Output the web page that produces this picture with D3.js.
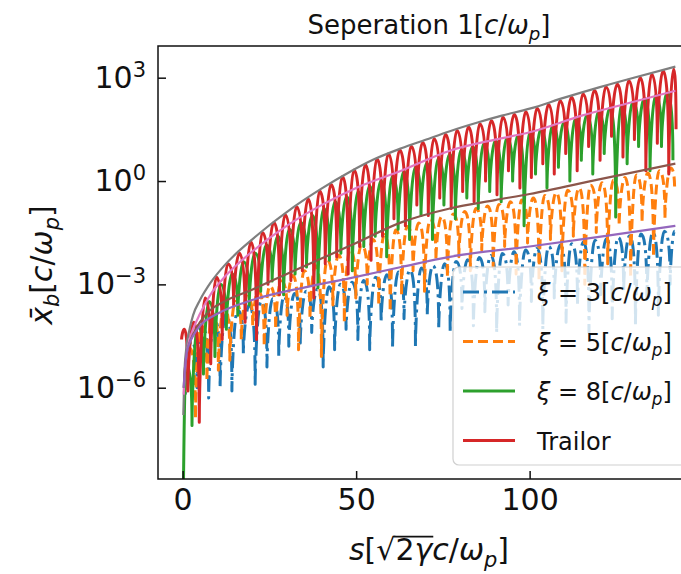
<!DOCTYPE html>
<html>
<head>
<meta charset="utf-8">
<script src="https://cdn.jsdelivr.net/npm/d3@7"></script>
<style>
  body { margin: 0; background: #fff; }
  text { font-family: "DejaVu Sans", sans-serif; fill: #111; }
</style>
</head>
<body>
<div id="chart"></div>
<script>
// ---- data: [s, x_b] ----
var xi3 = [[0.4,2.5e-6],[0.8,6.3e-7],[2.5,2.2e-5],[4.15,1e-6],[5.8,5.6e-5],[7.5,5e-7],[9.15,1e-4],[10.8,1e-6],
  [12.5,1.4e-4],[14.2,8e-7],[15.85,1.8e-4],[17.5,1e-5],[19.2,2.5e-4],[20.9,1.26e-6],[22.6,3.2e-4],[24.3,4e-6],
  [25.95,3.8e-4],[27.7,8e-6],[29.2,4.5e-4],[30.6,1.6e-5],[32.25,5.4e-4],[33.9,2e-5],[35.6,6.3e-4],[37.2,4e-5],
  [38.85,7.4e-4],[40.5,4e-6],[42.15,8.5e-4],[43.8,1.26e-5],[45.45,1e-3],[47.1,5e-5],[48.8,1.15e-3],[50.5,2.5e-5],
  [52.2,1.3e-3],[53.9,1.26e-5],[55.6,1.6e-3],[57.2,8e-5],[58.85,1.9e-3],[60.5,1.4e-5],[62.15,2.3e-3],[63.8,1e-4],
  [65.5,2.6e-3],[67.1,1.6e-5],[68.8,3e-3],[70.5,1.26e-4],[72.1,3.5e-3],[73.8,5e-5],[75.5,4e-3],[77.1,4e-5],
  [78.8,4.6e-3],[80.5,2e-4],[82.1,5.2e-3],[83.8,6.3e-5],[85.5,6e-3],[87.1,1.6e-4],[88.8,6.9e-3],[90.5,4e-5],
  [92.1,7.9e-3],[93.8,2.5e-4],[95.5,8.9e-3],[97.1,6.3e-5],[98.8,1e-2],[100.5,3.2e-4],[102.1,1.1e-2],[103.8,5e-5],
  [105.5,1.26e-2],[107.1,4e-4],[108.8,1.4e-2],[110.5,8e-5],[112.1,1.5e-2],[113.8,2.5e-4],[115.5,1.7e-2],[117.1,4e-5],
  [118.8,1.9e-2],[120.5,5e-4],[122.1,2.1e-2],[123.8,1e-4],[125.5,2.3e-2],[127.1,6.3e-4],[128.8,2.6e-2],[130.5,6.3e-5],
  [132.1,2.9e-2],[133.8,4e-4],[135.5,3.2e-2],[137.1,1.26e-4],[138.8,3.5e-2],[140.5,1e-3],[141.8,3.5e-2]];

var xi5 = [[0.6,6.3e-7],[2.05,1.4e-5],[3.7,1.26e-7],[5.35,6.3e-5],[7.0,1.6e-6],[8.65,1.4e-4],[10.3,3.2e-6],
  [11.95,2.2e-4],[13.6,6.3e-6],[15.25,3.2e-4],[16.9,2.5e-5],[18.55,4.5e-4],[20.2,6.3e-5],[21.85,6.3e-4],[23.5,1.6e-5],
  [25.15,8.9e-4],[26.8,5e-5],[28.45,1.26e-3],[30.1,1.26e-4],[31.75,1.8e-3],[33.4,1.26e-5],[35.05,2.5e-3],[36.7,1e-4],
  [38.35,3.5e-3],[40.0,8e-6],[41.65,5e-3],[43.3,2.5e-4],[44.95,7e-3],[46.6,8e-5],[48.25,1e-2],[49.9,4e-4],
  [51.55,1.4e-2],[53.2,1e-3],[54.85,2e-2],[56.5,2.5e-4],[58.15,2.8e-2],[59.8,1.6e-4],[61.45,3.8e-2],[63.1,5e-4],
  [64.75,4.8e-2],[66.4,2.5e-3],[68.05,6e-2],[69.7,6.3e-4],[71.35,7.6e-2],[73.0,5e-3],[74.65,9.3e-2],[76.3,1.6e-3],
  [77.95,0.11],[79.6,6.3e-3],[81.25,0.13],[82.9,2.5e-3],[84.55,0.16],[86.2,1e-2],[87.85,0.19],[89.5,3.2e-3],
  [91.15,0.21],[92.8,1.26e-2],[94.45,0.25],[96.1,2e-3],[97.75,0.28],[99.4,1.6e-2],[101.05,0.32],[102.7,1.26e-3],
  [104.35,0.38],[106.0,2e-2],[107.65,0.46],[109.3,2.5e-3],[110.95,0.54],[112.6,2.5e-2],[114.25,0.63],[115.9,1e-3],
  [117.55,0.76],[119.2,3.2e-2],[120.85,0.89],[122.5,4e-3],[124.15,1.07],[125.8,5e-2],[127.45,1.26],[129.1,1.6e-3],
  [130.75,1.5],[132.4,6.3e-2],[134.05,1.7],[135.7,6.3e-3],[137.35,2],[139.0,8e-2],[140.65,2.4],[141.8,0.5]];

var xi8 = [[0.05,1e-12],[1.0,5e-6],[2.7,8e-8],[4.35,6.3e-5],[6.0,2.5e-6],[7.65,3.2e-4],[9.3,8e-6],[10.95,1e-3],
  [12.6,5e-5],[14.25,2e-3],[15.9,1.26e-4],[17.55,4.5e-3],[19.2,2.5e-4],[20.85,8e-3],[22.5,6.3e-4],[24.15,1.4e-2],
  [25.8,1.26e-3],[27.45,2.5e-2],[29.1,5e-4],[30.75,4e-2],[32.4,2e-3],[34.05,6.3e-2],[35.7,3.2e-3],[37.35,0.1],
  [39.0,8e-4],[40.65,0.16],[42.3,5e-3],[43.95,0.25],[45.6,8e-3],[47.25,0.35],[48.9,2.5e-3],[50.55,0.5],
  [52.2,1.26e-2],[53.85,0.71],[55.5,2.5e-2],[57.15,1],[58.8,6.3e-3],[60.45,1.4],[62.1,4e-2],[63.75,1.9],
  [65.4,2e-2],[67.05,2.5],[68.7,0.1],[70.35,3.3],[72.0,2e-2],[73.65,4.5],[75.3,0.2],[76.95,6],
  [78.6,8e-2],[80.25,8],[81.9,0.32],[83.55,10],[85.2,0.16],[86.85,12.6],[88.5,0.5],[90.15,15],
  [91.8,0.25],[93.45,18],[95.1,1],[96.75,22],[98.4,5e-2],[100.05,26],[101.7,1.6],[103.35,33],
  [105.0,0.63],[106.65,42],[108.3,2.5],[109.95,52],[111.6,1],[113.25,66],[114.9,4],[116.55,83],
  [118.2,1.6],[119.85,105],[121.5,6.3],[123.15,132],[124.8,9e-2],[126.45,166],[128.1,3.2],[129.75,200],
  [131.4,10],[133.05,251],[134.7,2],[136.35,316],[138.0,10],[139.65,380],[141.3,4]];

var trailor = [[-0.3,2.5e-5],[0.5,5e-5],[1.5,8e-7],[3.15,8e-5],[4.8,1e-7],[6.45,4e-4],[8.1,5e-6],[9.75,1.6e-3],
  [11.4,2.5e-5],[13.05,4e-3],[14.7,2.5e-4],[16.35,8e-3],[18.0,8e-5],[19.65,1.7e-2],[21.3,2.5e-5],[22.95,3.2e-2],
  [24.6,1e-3],[26.25,6.3e-2],[27.9,5e-4],[29.55,0.105],[31.2,1.3e-3],[32.85,0.178],[34.5,2.5e-3],[36.15,0.3],
  [37.8,4e-4],[39.45,0.51],[41.1,4e-3],[42.75,0.79],[44.4,6.3e-3],[46.05,1.35],[47.7,2e-3],[49.35,2.1],
  [51.0,1.26e-2],[52.65,3.0],[54.3,5e-3],[55.95,4.4],[57.6,2.5e-2],[59.25,6.2],[60.9,8e-2],[62.55,8],
  [64.2,5e-2],[65.85,10.2],[67.5,0.2],[69.15,13.2],[70.8,0.1],[72.45,17],[74.1,0.32],[75.75,22.4],
  [77.4,0.16],[79.05,29.5],[80.7,0.5],[82.35,37],[84.0,0.25],[85.65,46],[87.3,1],[88.95,56],
  [90.6,0.4],[92.25,71],[93.9,2],[95.55,85],[97.2,0.63],[98.85,102],[100.5,1.26],[102.15,129],
  [103.8,3.2],[105.45,166],[107.1,1.6],[108.75,214],[110.4,6.3],[112.05,269],[113.7,2],[115.35,339],
  [117.0,10],[118.65,427],[120.3,4],[121.95,537],[123.6,20],[125.25,646],[126.9,5],[128.55,813],
  [130.2,16],[131.85,1000],[133.5,2],[135.15,1259],[136.8,12.6],[138.45,1585],[140.1,1.6],[141.5,1778],[142.2,32]];

// smooth reference curves
var envGray = [[0.2,1.6e-7],[0.5,2.5e-6],[1,1.26e-5],[2,5e-5],[3,1.26e-4],[5,3.5e-4],[8,1.1e-3],[12,3.5e-3],
  [16,8.9e-3],[20,2e-2],[25,5.2e-2],[30,0.126],[40,0.6],[48,1.8],[55,4.2],[63,8.9],[70,15.8],[77,28],[85,50],
  [92,79],[100,126],[110,263],[120,525],[130,1000],[142,2089]];
var envPink = [[0.3,6.3e-7],[0.7,3.2e-6],[1.2,1e-5],[2,2.5e-5],[3,5e-5],[5,1.4e-4],[8,5e-4],[12,1.6e-3],
  [16,4e-3],[20,8.9e-3],[25,2.2e-2],[30,5e-2],[40,0.2],[50,0.63],[63,2],[77,7.6],[90,16],[100,26],[115,79],
  [130,200],[142,417]];
var envBrown = [[0.3,1e-6],[0.7,4e-6],[1.2,1e-5],[2,2e-5],[3,3.5e-5],[5,8e-5],[8,1.8e-4],[12,3.2e-4],
  [20,7e-4],[30,2e-3],[40,5.6e-3],[50,1.6e-2],[63,6.3e-2],[77,0.16],[90,0.28],[100,0.42],[120,1.12],[142,3.2]];
var envPurple = [[0.3,1e-6],[0.7,4e-6],[1.2,1.1e-5],[2,2e-5],[3,3.2e-5],[5,6.3e-5],[10,1.4e-4],[20,3.5e-4],
  [36,8.5e-4],[48,1.5e-3],[63,3.2e-3],[77,6.3e-3],[100,1.26e-2],[120,2.4e-2],[142,5e-2]];

var xTicks = [0, 50, 100];
var yTicks = [1e-6, 1e-3, 1, 1e3];
var yExp = ["\u22126", "\u22123", "0", "3"];
var legendLabels = ["3", "5", "8", "Trailor"];

// ---- layout ----
var W = 681, H = 574;
var L = 158, T = 46, R = 700, B = 479;

var svg = d3.select("#chart").append("svg")
    .attr("width", W).attr("height", H);

var x = d3.scaleLinear().domain([-7.1, 149.1]).range([L, R]);
var y = d3.scaleLog().domain([Math.pow(10, -8.65), Math.pow(10, 3.92)]).range([B, T]);

svg.append("clipPath").attr("id", "plotclip")
  .append("rect").attr("x", L).attr("y", T).attr("width", R - L).attr("height", B - T);

// oscillation curve: flat at the crests, vertical into the troughs (|sin| on a log axis)
function curveArch(context) {
  var x0, y0, n;
  return {
    areaStart: function() {}, areaEnd: function() {},
    lineStart: function() { n = 0; },
    lineEnd: function() {},
    point: function(px, py) {
      if (n === 0) context.moveTo(px, py);
      else {
        var dx = px - x0;
        if (py > y0) {
          context.bezierCurveTo(x0 + dx * 0.55, y0, px, y0 + (py - y0) * 0.25, px, py);
        } else {
          context.bezierCurveTo(x0, y0 - (y0 - py) * 0.25, px - dx * 0.55, py, px, py);
        }
      }
      x0 = px; y0 = py; n++;
    }
  };
}

var osc = d3.line()
    .x(function(d) { return x(d[0]); })
    .y(function(d) { return y(d[1]); })
    .curve(curveArch);
var smooth = d3.line()
    .x(function(d) { return x(d[0]); })
    .y(function(d) { return y(d[1]); })
    .curve(d3.curveMonotoneX);

var plot = svg.append("g").attr("clip-path", "url(#plotclip)");

var series = [
  {data: xi3, color: "#1f77b4", dash: "16,5,3,5", w: 3, gen: osc},
  {data: xi5, color: "#ff7f0e", dash: "10,5", w: 3, gen: osc},
  {data: xi8, color: "#2ca02c", dash: null, w: 3, gen: osc},
  {data: trailor, color: "#d62728", dash: null, w: 3, gen: osc},
  {data: envGray, color: "#7f7f7f", dash: null, w: 2.2, gen: smooth},
  {data: envPink, color: "#e377c2", dash: null, w: 2.2, gen: smooth},
  {data: envBrown, color: "#8c564b", dash: null, w: 2.2, gen: smooth},
  {data: envPurple, color: "#9467bd", dash: null, w: 2.2, gen: smooth}
];

series.forEach(function(s) {
  plot.append("path")
    .datum(s.data)
    .attr("d", s.gen)
    .attr("fill", "none")
    .attr("stroke", s.color)
    .attr("stroke-width", s.w)
    .attr("stroke-dasharray", s.dash)
    .attr("stroke-linejoin", "round");
});

// ---- axes ----
var xAxis = svg.append("g")
    .attr("transform", "translate(0," + B + ")")
    .call(d3.axisBottom(x).tickValues(xTicks).tickSizeInner(-8).tickSizeOuter(0).tickPadding(10));
xAxis.select(".domain").remove();
xAxis.selectAll(".tick line").attr("stroke", "#111").attr("stroke-width", 1.5);
xAxis.selectAll(".tick text").attr("font-size", 30).attr("font-family", "DejaVu Sans").attr("fill", "#111");

var yAxis = svg.append("g")
    .attr("transform", "translate(" + L + ",0)")
    .call(d3.axisLeft(y).tickValues(yTicks).tickSizeInner(-8).tickSizeOuter(0).tickPadding(12)
      .tickFormat(function() { return ""; }));
yAxis.select(".domain").remove();
yAxis.selectAll(".tick line").attr("stroke", "#111").attr("stroke-width", 1.5);
yAxis.selectAll(".tick text")
  .attr("font-size", 30).attr("font-family", "DejaVu Sans").attr("fill", "#111")
  .each(function(d, i) {
    var t = d3.select(this);
    t.append("tspan").text("10");
    t.append("tspan").attr("font-size", 21).attr("dy", -11).text(yExp[i]);
  });

// frame
svg.append("rect")
  .attr("x", L).attr("y", T).attr("width", R - L).attr("height", B - T)
  .attr("fill", "none").attr("stroke", "#111").attr("stroke-width", 1.5);

// ---- math-ish text helper ----
function mathText(sel, fs, parts) {
  var shift = 0;
  parts.forEach(function(p) {
    var t = sel.append("tspan").text(p.t);
    if (p.i) t.attr("font-style", "italic");
    var want = p.sub ? Math.round(fs * 0.22) : 0;
    if (want !== shift) { t.attr("dy", want - shift); shift = want; }
    if (p.sub) t.attr("font-size", fs * 0.7);
  });
}

var unitParts = [{t: "["}, {t: "c", i: 1}, {t: "/"}, {t: "\u03c9", i: 1}, {t: "p", i: 1, sub: 1}, {t: "]"}];

// title
var title = svg.append("text")
  .attr("x", (L + R) / 2).attr("y", 34)
  .attr("text-anchor", "middle").attr("font-size", 26);
mathText(title, 26, [{t: "Seperation 1"}].concat(unitParts));

// y label
var ylab = svg.append("text")
  .attr("transform", "translate(52,265) rotate(-90)")
  .attr("text-anchor", "middle").attr("font-size", 30);
mathText(ylab, 30, [{t: "x\u0304", i: 1}, {t: "b", i: 1, sub: 1}].concat(unitParts));

// x label
var xlab = svg.append("text")
  .attr("x", (L + R) / 2).attr("y", 560)
  .attr("text-anchor", "middle").attr("font-size", 30);
mathText(xlab, 30, [{t: "s", i: 1}, {t: "["}, {t: "\u221a"}, {t: "2"}, {t: "\u03b3", i: 1},
  {t: "c", i: 1}, {t: "/"}, {t: "\u03c9", i: 1}, {t: "p", i: 1, sub: 1}, {t: "]"}]);

// vinculum of the square root, placed from the rendered glyphs
(function() {
  var node = xlab.node();
  var s0 = node.getStartPositionOfChar(3);
  var e1 = node.getEndPositionOfChar(4);
  var top = 560 - 30 * 0.78;
  svg.append("line")
    .attr("x1", s0.x - 2).attr("x2", e1.x + 1)
    .attr("y1", top).attr("y2", top)
    .attr("stroke", "#111").attr("stroke-width", 1.6);
})();

// ---- legend ----
var lg = svg.append("g");
lg.append("rect")
  .attr("x", 453).attr("y", 267).attr("width", 250).attr("height", 198).attr("rx", 6)
  .attr("fill", "#fff").attr("fill-opacity", 0.8)
  .attr("stroke", "#d0d0d0").attr("stroke-width", 1.2);

series.slice(0, 4).forEach(function(s, i) {
  var yy = 292 + i * 49.5;
  lg.append("line")
    .attr("x1", 463).attr("x2", 515).attr("y1", yy).attr("y2", yy)
    .attr("stroke", s.color).attr("stroke-width", s.w)
    .attr("stroke-dasharray", s.dash);
  var t = lg.append("text").attr("x", 537).attr("y", yy + 9).attr("font-size", 24);
  if (i < 3) {
    mathText(t, 24, [{t: "\u03be", i: 1}, {t: " = " + legendLabels[i]}].concat(unitParts));
  } else {
    t.text(legendLabels[i]);
  }
});
</script>
</body>
</html>
